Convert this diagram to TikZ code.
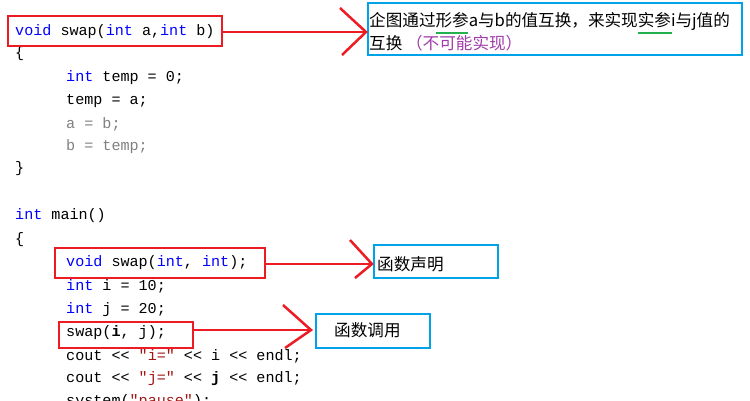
\documentclass[tikz,border=0pt]{standalone}
\usepackage{fontspec}
\setmonofont{Liberation Mono}
\newfontfamily\cjk{Noto Sans CJK SC}
\definecolor{kw}{RGB}{0,0,255}
\definecolor{gr}{RGB}{128,128,128}
\definecolor{st}{RGB}{163,21,21}
\definecolor{rb}{RGB}{237,28,36}
\definecolor{bb}{RGB}{0,162,232}
\definecolor{pu}{RGB}{160,60,170}
\definecolor{gn}{RGB}{34,177,76}
\begin{document}
\begin{tikzpicture}[x=1pt,y=-1pt,
 code/.style={anchor=west,inner sep=0,font=\ttfamily\fontsize{15.1}{17}\selectfont},
 redbox/.style={draw=rb,line width=2.5pt},
 bluebox/.style={draw=bb,line width=2.5pt},
 arr/.style={draw=rb,line width=2.5pt},
 lab/.style={anchor=west,inner sep=0,font=\cjk\fontsize{16.6}{18}\selectfont}]
\useasboundingbox (0,0) rectangle (750,400);
\clip (0,0) rectangle (750,400);
\node[code] (l1) at (15,32) {\textcolor{kw}{void} swap(\textcolor{kw}{int} a,\textcolor{kw}{int} b)};
\node[code] (l2) at (15,54) {\{};
\node[code] (l3) at (66,78) {\textcolor{kw}{int} temp = 0;};
\node[code] (l4) at (66,101) {temp = a;};
\node[code] (l5) at (66,124) {\textcolor{gr}{a = b;}};
\node[code] (l6) at (66,147) {\textcolor{gr}{b = temp;}};
\node[code] (l7) at (15,169) {\}};
\node[code] (l8) at (15,216) {\textcolor{kw}{int} main()};
\node[code] (l9) at (15,240) {\{};
\node[code] (l10) at (66,263) {\textcolor{kw}{void} swap(\textcolor{kw}{int}, \textcolor{kw}{int});};
\node[code] (l11) at (66,286) {\textcolor{kw}{int} i = 10;};
\node[code] (l12) at (66,310) {\textcolor{kw}{int} j = 20;};
\node[code] (l13) at (66,333) {swap(\textbf{i}, j);};
\node[code] (l14) at (66,356) {cout << \textcolor{st}{"i="} << i << endl;};
\node[code] (l15) at (66,379) {cout << \textcolor{st}{"j="} << \textbf{j} << endl;};
\node[code] (l16) at (66,402) {system(\textcolor{st}{"pause"});};
% boxes
\draw[redbox] (8,16) rectangle (222,46);
\coordinate (r1) at (222,32);
\draw[redbox] (55,248) rectangle (265,278);
\coordinate (r2) at (265,264);
\draw[redbox] (59,322) rectangle (193,348);
\coordinate (r3) at (193,330);
\draw[bluebox] (368,3) rectangle (742,55);
\draw[bluebox] (374,245) rectangle (498,278);
\draw[bluebox] (316,314) rectangle (430,348);
% arrows
\coordinate (t1) at (366,32);
\draw[arr] (r1) -- (t1);
\draw[arr] (340,8) -- (t1) -- (342,55);
\coordinate (t2) at (372,264);
\draw[arr] (r2) -- (t2);
\draw[arr] (350,240) -- (t2) -- (355,278);
\coordinate (t3) at (311,330);
\draw[arr] (r3) -- (t3);
\draw[arr] (283,305) -- (t3) -- (285,348);
% texts
\node[lab] (d1) at (369,21) {企图通过形参a与b的值互换，来实现实参i与j值的};
\node[lab] (d2) at (369,43) {互换 \textcolor{pu}{（不可能实现）}};
\draw[gn,line width=1.2pt] (436,33) -- (468,33);
\draw[gn,line width=1.2pt] (638,33) -- (672,33);
\node[lab] (d3) at (377,264) {函数声明};
\node[lab] (d4) at (334,330) {函数调用};
\end{tikzpicture}
\end{document}
